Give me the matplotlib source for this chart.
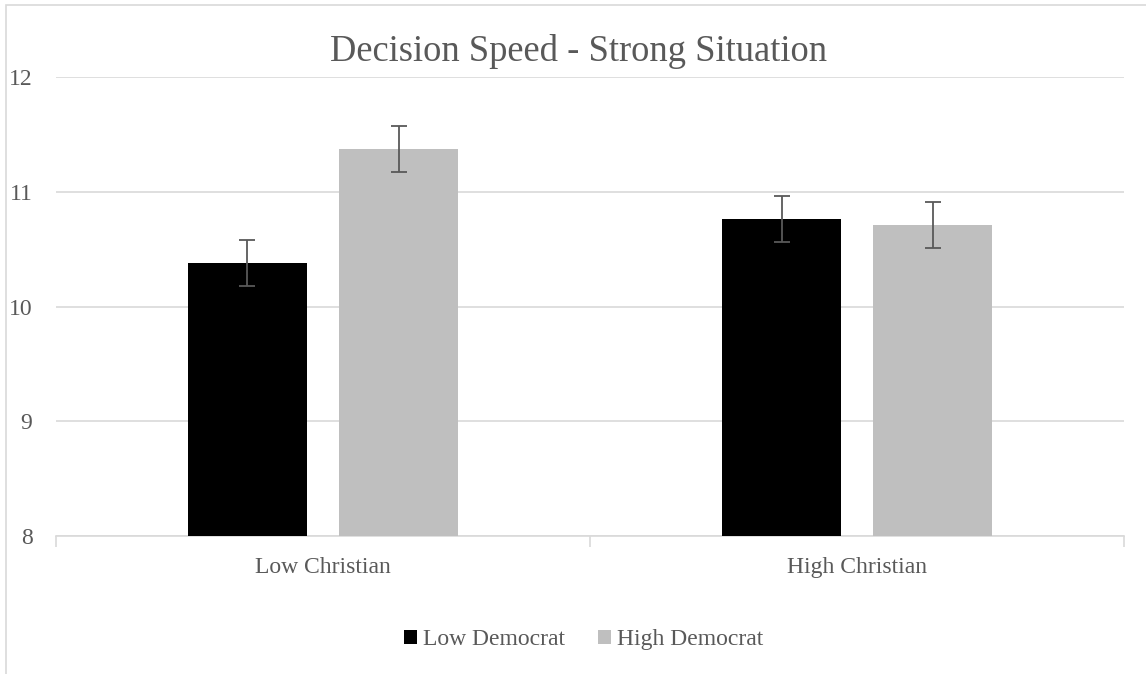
import numpy as np
import matplotlib.pyplot as plt
from matplotlib.patches import Rectangle

categories = ['Low Christian', 'High Christian']
series = ['Low Democrat', 'High Democrat']
low_dem = [10.38, 10.76]
high_dem = [11.37, 10.71]
low_dem_err = [0.2, 0.2]
high_dem_err = [0.2, 0.2]

plt.rcParams['font.family'] = ['Liberation Serif', 'DejaVu Serif']

fig = plt.figure(figsize=(11.46, 6.74), dpi=100)
ax = fig.add_axes([0.0489, 0.2047, 0.932, 0.6811])

# outer chart border (only left/top visible in the crop)
fig.patches.append(Rectangle((0.0052, -0.05), 1.2, 1.043, transform=fig.transFigure,
                             fill=False, edgecolor='#D9D9D9', linewidth=1.2))

x = np.arange(len(categories))
w = 0.223
off = 0.1415
err_kw = dict(ecolor='#595959', elinewidth=1.3, capsize=6, capthick=1.3)
ax.bar(x - off, low_dem, w, yerr=low_dem_err, color='black', label=series[0],
       error_kw=err_kw, zorder=3)
ax.bar(x + off, high_dem, w, yerr=high_dem_err, color='#BFBFBF', label=series[1],
       error_kw=err_kw, zorder=3)

ax.set_xlim(-0.5, 1.5)
ax.set_ylim(8, 12)
ax.set_yticks([8, 9, 10, 11, 12])
ax.yaxis.grid(True, color='#D9D9D9', linewidth=1.2, zorder=0)
ax.set_axisbelow(True)

for s in ['top', 'right', 'left']:
    ax.spines[s].set_visible(False)
ax.spines['bottom'].set_color('#D9D9D9')
ax.spines['bottom'].set_linewidth(1.2)

ax.set_xticks(x)
ax.set_xticklabels(categories)
ax.set_xticks([-0.5, 0.5, 1.5], minor=True)
ax.tick_params(axis='x', which='major', length=0, pad=15, labelsize=17, labelcolor='#595959')
ax.tick_params(axis='x', which='minor', length=8, color='#D9D9D9', width=1.2)
ax.tick_params(axis='y', length=0, pad=17, labelsize=17, labelcolor='#595959')

fig.text(0.5045, 0.9095, 'Decision Speed - Strong Situation', ha='center', va='baseline',
         fontsize=26.3, color='#595959')

fig.legend(loc='center', bbox_to_anchor=(0.509, 0.051), ncol=2, frameon=False,
           fontsize=17, handlelength=0.55, handleheight=0.55, handletextpad=0.25,
           columnspacing=1.4, labelcolor='#595959')

fig.savefig('out.png', dpi=100)
